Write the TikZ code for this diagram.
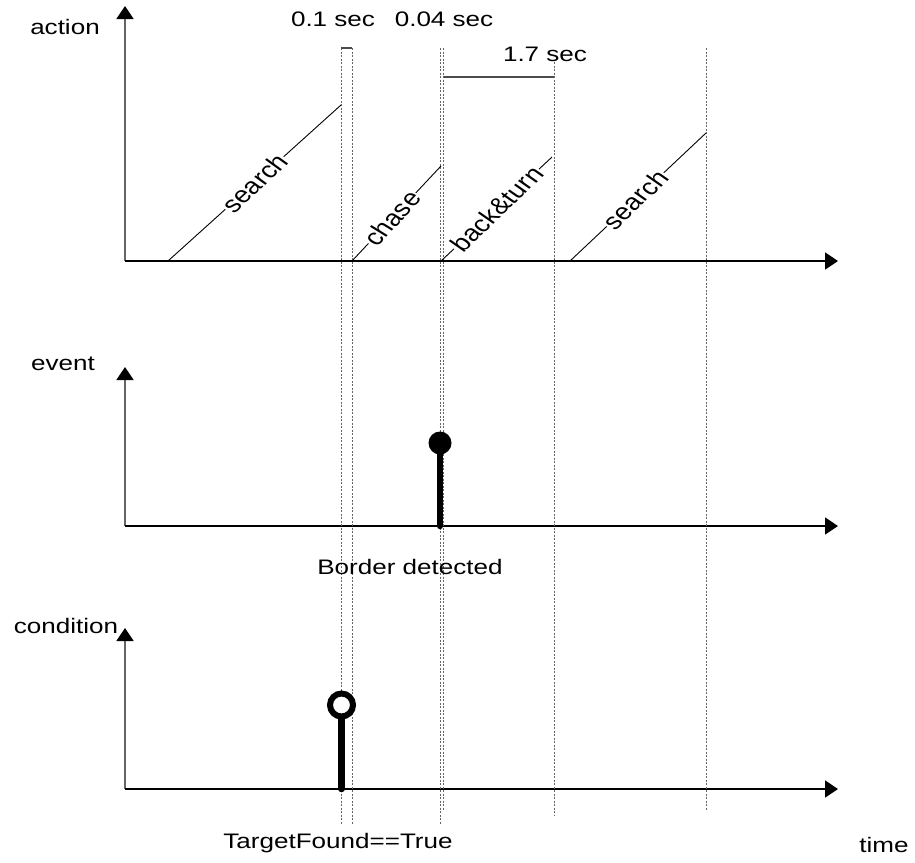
\documentclass[tikz,border=0pt]{standalone}
\usepackage{fontspec}
\setmainfont{Liberation Sans}
\usetikzlibrary{arrows.meta,calc}
\begin{document}
\begin{tikzpicture}[x=1pt,y=-1pt,
  lab/.style={font=\fontsize{21}{24}\selectfont, xscale=1.24, inner sep=0pt},
  slab/.style={font=\fontsize{23}{26}\selectfont, fill=white, inner sep=1pt, xscale=1.22, rotate=#1},
  vaxis/.style={draw=black!60, line width=1.8pt, -{Triangle[width=17pt,length=13pt,color=black]}},
  haxis/.style={draw=black, line width=1.6pt, -{Triangle[width=17pt,length=13pt]}},
  guide/.style={draw=black!60, line width=1pt, dash pattern=on 2pt off 1.5pt},
  bracket/.style={draw=black!70, line width=1.2pt},
  ramp/.style={draw=black, line width=0.9pt},
  stem/.style={draw=black, line width=6.5pt, line cap=round}]
\useasboundingbox (0,0) rectangle (915,862);

% axes: action, event, condition
\coordinate (a0) at (125,261); \coordinate (aT) at (125,6);   \coordinate (aE) at (838,261);
\coordinate (e0) at (125,526); \coordinate (eT) at (125,367); \coordinate (eE) at (838,526);
\coordinate (c0) at (125,789); \coordinate (cT) at (125,628); \coordinate (cE) at (838,789);
\draw[vaxis] (a0) -- (aT);
\draw[haxis] (a0) -- (aE);
\draw[vaxis] (e0) -- (eT);
\draw[haxis] (e0) -- (eE);
\draw[vaxis] (c0) -- (cT);
\draw[haxis] (c0) -- (cE);

\node[lab] (lAction) at (65,27) {action};
\node[lab] (lEvent) at (63,364) {event};
\node[lab] (lCond) at (66,626) {condition};
\node[lab] (lTime) at (884,845) {time};

% dotted time markers
\coordinate (g1t) at (341,48);  \coordinate (g1b) at (341,824);
\coordinate (g2t) at (352,48);  \coordinate (g2b) at (352,824);
\coordinate (g3t) at (440,48);  \coordinate (g3b) at (440,824);
\coordinate (g4t) at (443.5,48);\coordinate (g4b) at (443.5,810);
\coordinate (g5t) at (554,62);  \coordinate (g5b) at (554,816);
\coordinate (g6t) at (706,48);  \coordinate (g6b) at (706,810);
\foreach \g in {1,...,6} \draw[guide] (g\g t) -- (g\g b);

% interval brackets
\draw[bracket] (g1t) -- (g2t);
\coordinate (b1) at (443.5,77); \coordinate (b2) at (554,77);
\draw[bracket] (b1) -- (b2);
\node[lab] (t01) at (333,19) {0.1 sec};
\node[lab] (t004) at (444,19) {0.04 sec};
\node[lab] (t17) at (545,54) {1.7 sec};

% action ramps
\coordinate (s1a) at (168,261); \coordinate (s1b) at (341,105);
\coordinate (cha) at (352,261); \coordinate (chb) at (441,166);
\coordinate (bta) at (441,261); \coordinate (btb) at (552,157);
\coordinate (s2a) at (570,261); \coordinate (s2b) at (706,133);
\draw[ramp] (s1a) -- node[slab=48.4, pos=0.5] (n1) {search} (s1b);
\draw[ramp] (cha) -- node[slab=53, pos=0.45] (n2) {chase} (chb);
\draw[ramp] (bta) -- node[slab=49.5, pos=0.5] (n3) {back\&turn} (btb);
\draw[ramp] (s2a) -- node[slab=49.6, pos=0.48] (n4) {search} (s2b);

% event: border detected
\coordinate (ev0) at (440,526); \coordinate (ev1) at (440,443);
\draw[stem] (ev0) -- (ev1);
\fill (ev1) circle[radius=11.5];
\node[lab] (lBorder) at (410,567) {Border detected};

% condition: target found
\coordinate (cd0) at (341.5,789); \coordinate (cd1) at (341.5,705);
\draw[stem] (cd0) -- ($(cd1)+(0,12)$);
\draw[black, line width=6pt, fill=white] (cd1) circle[radius=11.5];
\node[lab] (lTarget) at (338,843) {TargetFound==True};
\end{tikzpicture}
\end{document}
